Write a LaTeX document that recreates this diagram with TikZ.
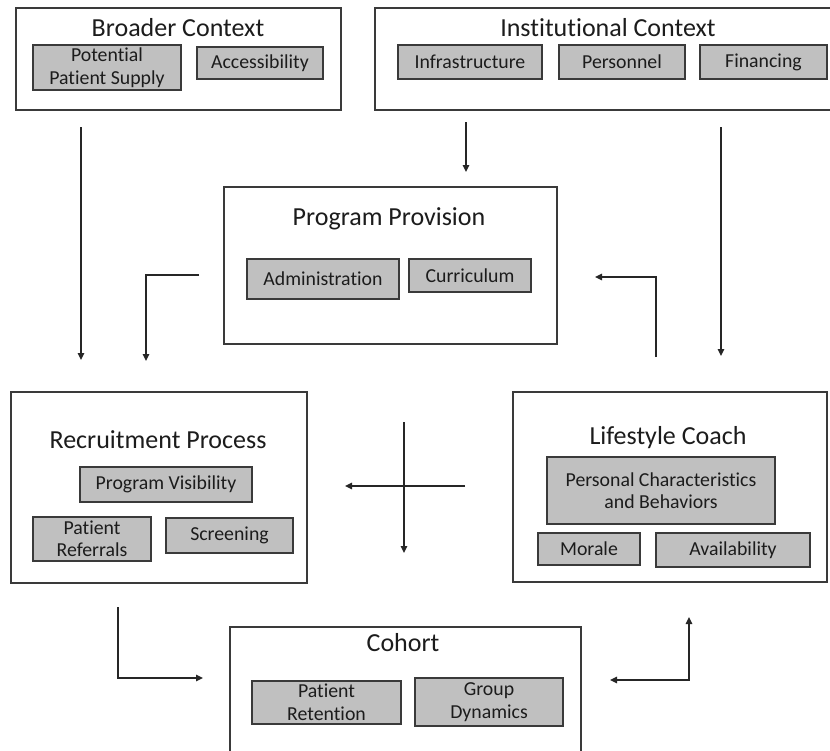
\documentclass[tikz,border=0pt]{standalone}
\usepackage{fontspec}
\setmainfont{Carlito}[Ligatures={NoCommon}]
\usetikzlibrary{arrows.meta}
\definecolor{edge}{HTML}{3A3A3A}
\definecolor{ink}{HTML}{1C1C1C}
\definecolor{inner}{HTML}{C0C0C0}
\tikzset{
  outerbox/.style={draw=edge, line width=1.8pt, fill=white, rectangle, inner sep=0pt},
  innerbox/.style={draw=edge, line width=1.5pt, fill=inner, rectangle, inner sep=0pt, text=ink,
    font=\fontsize{19.8}{22.5}\selectfont, align=center},
  titletext/.style={text=ink, font=\fontsize{26}{28}\selectfont, inner sep=0pt},
  conn/.style={draw=black!85, line width=1.4pt, -{Triangle[length=7pt,width=6.5pt]}},
  dconn/.style={draw=black!85, line width=1.4pt, {Triangle[length=7pt,width=6.5pt]}-{Triangle[length=7pt,width=6.5pt]}},
}
\begin{document}
\begin{tikzpicture}[x=1pt,y=-1pt]
\useasboundingbox (0,0) rectangle (830,750);
\clip (0,0) rectangle (830,750);
\fill[white] (0,0) rectangle (830,750);

% Broader Context
\node[outerbox, minimum width=325pt, minimum height=102pt] (bc) at (178.5,59) {};
\node[titletext] (bct) at (178,28) {Broader Context};
\node[innerbox, minimum width=148pt, minimum height=45pt] (pps) at (107,67.5) {Potential\\Patient Supply};
\node[innerbox, minimum width=126pt, minimum height=32pt] (acc) at (260,63) {Accessibility};

% Institutional Context
\node[outerbox, minimum width=475pt, minimum height=102pt] (ic) at (612.5,59) {};
\node[titletext] (ict) at (608,28) {Institutional Context};
\node[innerbox, minimum width=144pt, minimum height=34pt] (inf) at (470,62) {Infrastructure};
\node[innerbox, minimum width=126pt, minimum height=34pt] (per) at (622,62) {Personnel};
\node[innerbox, minimum width=127pt, minimum height=34pt] (fin) at (763.5,62) {Financing};

% Program Provision
\node[outerbox, minimum width=333pt, minimum height=157pt] (pp) at (390.5,265.5) {};
\node[titletext] (ppt) at (389,219) {Program Provision};
\node[innerbox, minimum width=152pt, minimum height=40pt] (adm) at (323,279) {Administration};
\node[innerbox, minimum width=122pt, minimum height=33pt] (cur) at (470,275.5) {Curriculum};

% Recruitment Process
\node[outerbox, minimum width=296pt, minimum height=191pt] (rp) at (159,487.5) {};
\node[titletext] (rpt) at (158,440) {Recruitment Process};
\node[innerbox, minimum width=172pt, minimum height=35pt] (pv) at (166,484.5) {Program Visibility};
\node[innerbox, minimum width=118pt, minimum height=44pt] (pr) at (92,539) {Patient\\Referrals};
\node[innerbox, minimum width=127pt, minimum height=35pt] (scr) at (229.5,535.5) {Screening};

% Lifestyle Coach
\node[outerbox, minimum width=314pt, minimum height=190pt] (lc) at (670,487) {};
\node[titletext] (lct) at (668,438) {Lifestyle Coach};
\node[innerbox, minimum width=228pt, minimum height=67pt] (pcb) at (661,490.5) {Personal Characteristics\\and Behaviors};
\node[innerbox, minimum width=102pt, minimum height=32pt] (mor) at (589,549) {Morale};
\node[innerbox, minimum width=154pt, minimum height=34pt] (ava) at (733,550) {Availability};

% Cohort
\node[outerbox, minimum width=351pt, minimum height=143pt] (co) at (405.5,698.5) {};
\node[titletext] (cot) at (403,643) {Cohort};
\node[innerbox, minimum width=149pt, minimum height=43pt] (ret) at (326.5,702.5) {Patient\\Retention};
\node[innerbox, minimum width=148pt, minimum height=48pt] (gd) at (489,702) {Group\\Dynamics};

% connector end points
\coordinate (a1s) at (81,127);   \coordinate (a1e) at (81,360);
\coordinate (a2s) at (466,122);  \coordinate (a2e) at (466,172);
\coordinate (a3s) at (721,127);  \coordinate (a3e) at (721,356);
\coordinate (a4s) at (199,275);  \coordinate (a4c) at (146,275); \coordinate (a4e) at (146,361);
\coordinate (a5s) at (656,357);  \coordinate (a5c) at (656,277); \coordinate (a5e) at (595,277);
\coordinate (a6s) at (465,486);  \coordinate (a6e) at (345,486);
\coordinate (a7s) at (404,422);  \coordinate (a7e) at (404,553);
\coordinate (a8s) at (118,607);  \coordinate (a8c) at (118,678); \coordinate (a8e) at (203,678);
\coordinate (a9s) at (610,680);  \coordinate (a9c) at (689,680); \coordinate (a9e) at (689,617);

\draw[conn] (a1s) -- (a1e);
\draw[conn] (a2s) -- (a2e);
\draw[conn] (a3s) -- (a3e);
\draw[conn] (a4s) -- (a4c) -- (a4e);
\draw[conn] (a5s) -- (a5c) -- (a5e);
\draw[conn] (a6s) -- (a6e);
\draw[conn] (a7s) -- (a7e);
\draw[conn] (a8s) -- (a8c) -- (a8e);
\draw[dconn] (a9s) -- (a9c) -- (a9e);
\end{tikzpicture}
\end{document}
